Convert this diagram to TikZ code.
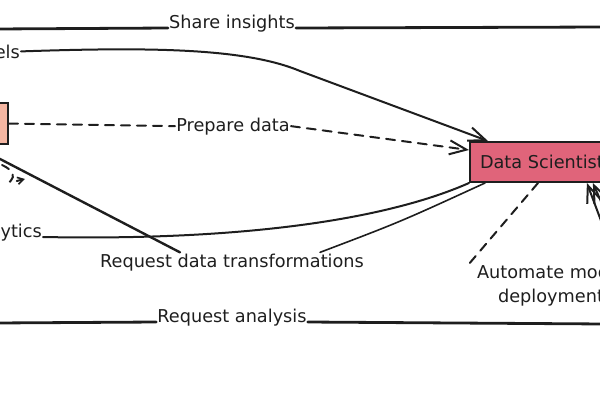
\documentclass[tikz,border=0pt]{standalone}
\usepackage{fontspec}
\setmainfont{DejaVu Sans}
\usetikzlibrary{arrows.meta}
\definecolor{dsfill}{RGB}{224,100,122}
\definecolor{defill}{RGB}{244,182,162}
\definecolor{ink}{RGB}{30,30,30}
\begin{document}
\begin{tikzpicture}[x=1pt,y=-1pt,
  lbl/.style={font=\fontsize{17.7}{24}\selectfont, inner sep=1pt, text=ink},
  conn/.style={draw=ink, line width=2pt, line cap=round},
  bigline/.style={draw=ink, line width=2.8pt, line cap=round},
  dashline/.style={conn, dash pattern=on 9pt off 7pt},
  head/.style={-{Straight Barb[length=17pt,width=14pt,line width=2pt]}},
  boxstyle/.style={draw=ink, line width=2pt}
]
\useasboundingbox (0,0) rectangle (600,400);
\clip (0,0) rectangle (600,400);

% boxes
\node[boxstyle, fill=defill, minimum width=120pt, minimum height=41pt] (de) at (-52,123.5) {};
\node[boxstyle, fill=dsfill, lbl, inner xsep=10pt, minimum height=40pt, anchor=west] (ds) at (469,162) {Data Scientist};

% labels
\node[lbl, anchor=base] (si) at (232,28) {Share insights};
\node[lbl, anchor=base] (pd) at (233,131) {Prepare data};
\node[lbl, anchor=base] (rdt) at (232,267) {Request data transformations};
\node[lbl, anchor=base] (ra) at (232,322) {Request analysis};
\node[lbl, anchor=base east] (els) at (21,58) {els};
\node[lbl, anchor=base east] (an) at (43,237) {analytics};
\node[lbl, align=center, anchor=north] (amd) at (551,264) {Automate model\\deployment};

% free ends
\coordinate (sil) at (-5,29);
\coordinate (sir) at (605,27);
\coordinate (ral) at (-5,323);
\coordinate (rar) at (605,324);
\coordinate (rdtA) at (-25,146);
\coordinate (br1) at (606,234);
\coordinate (br2) at (614,231);
\coordinate (sdA) at (2,165);
\coordinate (sdB) at (25,179);

% Share insights
\draw[bigline] (sil) -- (si.base west);
\draw[bigline] (si.base east) -- (sir);

% Request analysis
\draw[bigline] (ral) -- (ra.base west);
\draw[bigline] (ra.base east) -- (rar);

% els curve
\draw[conn, head] (els.east) .. controls (150,47) and (245,48) .. (300,71) -- ([xshift=19pt]ds.north west);

% Prepare data
\draw[dashline] (de.east) -- (pd.west);
\draw[dashline, head] (pd.east) -- ([yshift=12pt]ds.west);

% analytics
\draw[conn] (an.base east) .. controls (250,241) and (390,218) .. (ds.south west);

% Request data transformations
\draw[conn, line width=2.4pt] (rdtA) -- ([xshift=-52pt]rdt.north);
\draw[conn, line width=1.6pt] ([xshift=88pt]rdt.north) .. controls (400,222) .. ([xshift=16pt]ds.south west);

% Automate model deployment
\draw[dashline] ([xshift=69pt]ds.south west) -- ([xshift=-7pt]amd.north west);

% arrows from lower right
\draw[conn, head] (br1) -- ([xshift=-28pt]ds.south east);
\draw[conn, head] (br2) -- ([xshift=-22pt]ds.south east);

% small dashed arrow at left
\draw[dashline, dash pattern=on 8pt off 7pt, -{Straight Barb[length=6pt,width=7pt,line width=1.6pt]}] (sdA) .. controls (30,178) and (-8,187) .. (sdB);
\end{tikzpicture}
\end{document}
